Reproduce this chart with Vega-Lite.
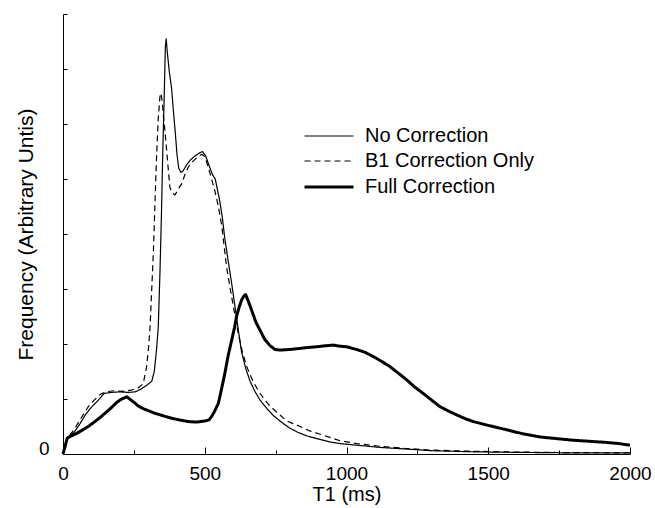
{
  "$schema": "https://vega.github.io/schema/vega-lite/v6.json",
  "autosize": "none",
  "width": 567,
  "height": 440,
  "padding": {"left": 63, "top": 14, "right": 25, "bottom": 54},
  "background": "white",
  "config": {
    "view": {"stroke": null},
    "font": "Liberation Sans",
    "axis": {"domainColor": "black", "tickColor": "black", "labelColor": "black", "titleColor": "black", "grid": false, "titleFontWeight": "normal"}
  },
  "data": {"values": [
    {"s":"No Correction","t":0,"f":0},{"s":"No Correction","t":10,"f":0.22},{"s":"No Correction","t":18,"f":0.30},{"s":"No Correction","t":40,"f":0.40},{"s":"No Correction","t":60,"f":0.55},{"s":"No Correction","t":80,"f":0.72},{"s":"No Correction","t":100,"f":0.85},{"s":"No Correction","t":125,"f":0.98},{"s":"No Correction","t":145,"f":1.10},{"s":"No Correction","t":170,"f":1.12},{"s":"No Correction","t":200,"f":1.13},{"s":"No Correction","t":230,"f":1.12},{"s":"No Correction","t":255,"f":1.13},{"s":"No Correction","t":275,"f":1.18},{"s":"No Correction","t":295,"f":1.25},{"s":"No Correction","t":313,"f":1.32},{"s":"No Correction","t":322,"f":1.50},{"s":"No Correction","t":330,"f":1.9},{"s":"No Correction","t":336,"f":2.3},{"s":"No Correction","t":342,"f":3.3},{"s":"No Correction","t":347,"f":4.3},{"s":"No Correction","t":352,"f":5.5},{"s":"No Correction","t":357,"f":6.5},{"s":"No Correction","t":361,"f":7.4},{"s":"No Correction","t":364,"f":7.55},{"s":"No Correction","t":368,"f":7.3},{"s":"No Correction","t":375,"f":6.95},{"s":"No Correction","t":383,"f":6.65},{"s":"No Correction","t":390,"f":6.2},{"s":"No Correction","t":396,"f":5.85},{"s":"No Correction","t":402,"f":5.45},{"s":"No Correction","t":408,"f":5.2},{"s":"No Correction","t":416,"f":5.12},{"s":"No Correction","t":424,"f":5.15},{"s":"No Correction","t":435,"f":5.25},{"s":"No Correction","t":450,"f":5.35},{"s":"No Correction","t":466,"f":5.42},{"s":"No Correction","t":480,"f":5.47},{"s":"No Correction","t":492,"f":5.5},{"s":"No Correction","t":503,"f":5.42},{"s":"No Correction","t":515,"f":5.25},{"s":"No Correction","t":527,"f":5.08},{"s":"No Correction","t":537,"f":5.0},{"s":"No Correction","t":545,"f":4.8},{"s":"No Correction","t":553,"f":4.6},{"s":"No Correction","t":562,"f":4.3},{"s":"No Correction","t":570,"f":3.95},{"s":"No Correction","t":580,"f":3.6},{"s":"No Correction","t":595,"f":3.1},{"s":"No Correction","t":613,"f":2.45},{"s":"No Correction","t":630,"f":1.85},{"s":"No Correction","t":645,"f":1.55},{"s":"No Correction","t":660,"f":1.32},{"s":"No Correction","t":678,"f":1.13},{"s":"No Correction","t":695,"f":0.98},{"s":"No Correction","t":720,"f":0.82},{"s":"No Correction","t":742,"f":0.70},{"s":"No Correction","t":770,"f":0.58},{"s":"No Correction","t":800,"f":0.47},{"s":"No Correction","t":830,"f":0.39},{"s":"No Correction","t":860,"f":0.33},{"s":"No Correction","t":895,"f":0.28},{"s":"No Correction","t":940,"f":0.22},{"s":"No Correction","t":977,"f":0.19},{"s":"No Correction","t":1036,"f":0.16},{"s":"No Correction","t":1118,"f":0.12},{"s":"No Correction","t":1212,"f":0.09},{"s":"No Correction","t":1300,"f":0.06},{"s":"No Correction","t":1447,"f":0.04},{"s":"No Correction","t":1600,"f":0.03},{"s":"No Correction","t":1800,"f":0.02},{"s":"No Correction","t":2000,"f":0.02},
    {"s":"B1 Correction Only","t":0,"f":0},{"s":"B1 Correction Only","t":10,"f":0.22},{"s":"B1 Correction Only","t":18,"f":0.30},{"s":"B1 Correction Only","t":40,"f":0.45},{"s":"B1 Correction Only","t":60,"f":0.62},{"s":"B1 Correction Only","t":89,"f":0.86},{"s":"B1 Correction Only","t":110,"f":0.98},{"s":"B1 Correction Only","t":130,"f":1.08},{"s":"B1 Correction Only","t":150,"f":1.13},{"s":"B1 Correction Only","t":180,"f":1.15},{"s":"B1 Correction Only","t":210,"f":1.14},{"s":"B1 Correction Only","t":240,"f":1.16},{"s":"B1 Correction Only","t":265,"f":1.2},{"s":"B1 Correction Only","t":283,"f":1.28},{"s":"B1 Correction Only","t":295,"f":1.59},{"s":"B1 Correction Only","t":302,"f":1.95},{"s":"B1 Correction Only","t":307,"f":2.3},{"s":"B1 Correction Only","t":313,"f":3.0},{"s":"B1 Correction Only","t":319,"f":3.7},{"s":"B1 Correction Only","t":324,"f":4.5},{"s":"B1 Correction Only","t":330,"f":5.4},{"s":"B1 Correction Only","t":336,"f":6.1},{"s":"B1 Correction Only","t":342,"f":6.5},{"s":"B1 Correction Only","t":346,"f":6.56},{"s":"B1 Correction Only","t":350,"f":6.4},{"s":"B1 Correction Only","t":355,"f":6.1},{"s":"B1 Correction Only","t":360,"f":5.85},{"s":"B1 Correction Only","t":366,"f":5.5},{"s":"B1 Correction Only","t":371,"f":5.2},{"s":"B1 Correction Only","t":377,"f":4.85},{"s":"B1 Correction Only","t":385,"f":4.75},{"s":"B1 Correction Only","t":395,"f":4.71},{"s":"B1 Correction Only","t":405,"f":4.8},{"s":"B1 Correction Only","t":419,"f":4.92},{"s":"B1 Correction Only","t":430,"f":5.08},{"s":"B1 Correction Only","t":442,"f":5.22},{"s":"B1 Correction Only","t":460,"f":5.33},{"s":"B1 Correction Only","t":477,"f":5.41},{"s":"B1 Correction Only","t":490,"f":5.45},{"s":"B1 Correction Only","t":501,"f":5.4},{"s":"B1 Correction Only","t":512,"f":5.22},{"s":"B1 Correction Only","t":524,"f":5.0},{"s":"B1 Correction Only","t":536,"f":4.78},{"s":"B1 Correction Only","t":548,"f":4.5},{"s":"B1 Correction Only","t":560,"f":4.15},{"s":"B1 Correction Only","t":577,"f":3.4},{"s":"B1 Correction Only","t":590,"f":3.0},{"s":"B1 Correction Only","t":601,"f":2.68},{"s":"B1 Correction Only","t":618,"f":2.19},{"s":"B1 Correction Only","t":633,"f":1.85},{"s":"B1 Correction Only","t":648,"f":1.59},{"s":"B1 Correction Only","t":670,"f":1.32},{"s":"B1 Correction Only","t":695,"f":1.1},{"s":"B1 Correction Only","t":725,"f":0.9},{"s":"B1 Correction Only","t":754,"f":0.76},{"s":"B1 Correction Only","t":790,"f":0.6},{"s":"B1 Correction Only","t":836,"f":0.5},{"s":"B1 Correction Only","t":870,"f":0.42},{"s":"B1 Correction Only","t":907,"f":0.36},{"s":"B1 Correction Only","t":977,"f":0.24},{"s":"B1 Correction Only","t":1036,"f":0.19},{"s":"B1 Correction Only","t":1118,"f":0.14},{"s":"B1 Correction Only","t":1212,"f":0.10},{"s":"B1 Correction Only","t":1300,"f":0.07},{"s":"B1 Correction Only","t":1447,"f":0.05},{"s":"B1 Correction Only","t":1600,"f":0.035},{"s":"B1 Correction Only","t":1800,"f":0.025},{"s":"B1 Correction Only","t":2000,"f":0.02},
    {"s":"Full Correction","t":0,"f":0},{"s":"Full Correction","t":8,"f":0.15},{"s":"Full Correction","t":15,"f":0.29},{"s":"Full Correction","t":30,"f":0.33},{"s":"Full Correction","t":50,"f":0.38},{"s":"Full Correction","t":70,"f":0.44},{"s":"Full Correction","t":89,"f":0.5},{"s":"Full Correction","t":110,"f":0.58},{"s":"Full Correction","t":130,"f":0.66},{"s":"Full Correction","t":148,"f":0.74},{"s":"Full Correction","t":170,"f":0.84},{"s":"Full Correction","t":190,"f":0.94},{"s":"Full Correction","t":207,"f":1.0},{"s":"Full Correction","t":225,"f":1.04},{"s":"Full Correction","t":240,"f":0.98},{"s":"Full Correction","t":255,"f":0.92},{"s":"Full Correction","t":266,"f":0.87},{"s":"Full Correction","t":285,"f":0.82},{"s":"Full Correction","t":305,"f":0.78},{"s":"Full Correction","t":324,"f":0.74},{"s":"Full Correction","t":350,"f":0.70},{"s":"Full Correction","t":383,"f":0.65},{"s":"Full Correction","t":410,"f":0.62},{"s":"Full Correction","t":442,"f":0.59},{"s":"Full Correction","t":470,"f":0.58},{"s":"Full Correction","t":501,"f":0.6},{"s":"Full Correction","t":515,"f":0.62},{"s":"Full Correction","t":524,"f":0.68},{"s":"Full Correction","t":535,"f":0.78},{"s":"Full Correction","t":548,"f":0.92},{"s":"Full Correction","t":560,"f":1.2},{"s":"Full Correction","t":571,"f":1.47},{"s":"Full Correction","t":583,"f":1.8},{"s":"Full Correction","t":595,"f":2.07},{"s":"Full Correction","t":605,"f":2.3},{"s":"Full Correction","t":613,"f":2.52},{"s":"Full Correction","t":622,"f":2.68},{"s":"Full Correction","t":630,"f":2.8},{"s":"Full Correction","t":638,"f":2.87},{"s":"Full Correction","t":644,"f":2.9},{"s":"Full Correction","t":652,"f":2.8},{"s":"Full Correction","t":665,"f":2.62},{"s":"Full Correction","t":680,"f":2.4},{"s":"Full Correction","t":695,"f":2.25},{"s":"Full Correction","t":712,"f":2.08},{"s":"Full Correction","t":730,"f":1.97},{"s":"Full Correction","t":748,"f":1.9},{"s":"Full Correction","t":765,"f":1.89},{"s":"Full Correction","t":800,"f":1.9},{"s":"Full Correction","t":836,"f":1.92},{"s":"Full Correction","t":870,"f":1.94},{"s":"Full Correction","t":895,"f":1.95},{"s":"Full Correction","t":930,"f":1.97},{"s":"Full Correction","t":953,"f":1.98},{"s":"Full Correction","t":977,"f":1.96},{"s":"Full Correction","t":1000,"f":1.95},{"s":"Full Correction","t":1036,"f":1.9},{"s":"Full Correction","t":1065,"f":1.85},{"s":"Full Correction","t":1095,"f":1.77},{"s":"Full Correction","t":1125,"f":1.68},{"s":"Full Correction","t":1153,"f":1.59},{"s":"Full Correction","t":1180,"f":1.48},{"s":"Full Correction","t":1212,"f":1.35},{"s":"Full Correction","t":1240,"f":1.22},{"s":"Full Correction","t":1271,"f":1.1},{"s":"Full Correction","t":1300,"f":0.98},{"s":"Full Correction","t":1330,"f":0.86},{"s":"Full Correction","t":1360,"f":0.78},{"s":"Full Correction","t":1389,"f":0.71},{"s":"Full Correction","t":1420,"f":0.64},{"s":"Full Correction","t":1447,"f":0.59},{"s":"Full Correction","t":1500,"f":0.52},{"s":"Full Correction","t":1565,"f":0.44},{"s":"Full Correction","t":1620,"f":0.37},{"s":"Full Correction","t":1683,"f":0.31},{"s":"Full Correction","t":1740,"f":0.28},{"s":"Full Correction","t":1800,"f":0.25},{"s":"Full Correction","t":1860,"f":0.23},{"s":"Full Correction","t":1918,"f":0.21},{"s":"Full Correction","t":1960,"f":0.19},{"s":"Full Correction","t":2000,"f":0.16}
  ]},
  "mark": {"type": "line", "color": "black", "strokeJoin": "round"},
  "encoding": {
    "x": {"field": "t", "type": "quantitative", "scale": {"domain": [0, 2000], "nice": false},
      "axis": {"title": "T1 (ms)", "format": "d", "values": [0,250,500,750,1000,1250,1500,1750,2000], "labelExpr": "datum.value % 500 == 0 ? datum.label : ''", "tickSize": {"expr": "datum.value % 500 == 0 ? -7 : -4"}, "labelPadding": 17, "labelFontSize": 19, "titleFontSize": 20, "titlePadding": 1, "labelFlush": false, "domainWidth": 1}},
    "y": {"field": "f", "type": "quantitative", "scale": {"domain": [0, 8], "nice": false},
      "axis": {"title": "Frequency (Arbitrary Untis)", "values": [0,1,2,3,4,5,6,7,8], "labelExpr": "datum.value == 0 ? '0' : ''", "tickSize": -4, "labelPadding": 18, "labelOffset": -6, "labelFontSize": 19, "titleFontSize": 21, "titlePadding": 2, "labelFlush": false}},
    "strokeDash": {"field": "s", "type": "nominal", "scale": {"domain": ["No Correction", "B1 Correction Only", "Full Correction"], "range": [[1,0],[6,4],[1,0]]},
      "legend": {"title": null, "orient": "none", "legendX": 252, "legendY": 109, "symbolType": "M-2,0H2", "symbolSize": 600, "symbolStrokeColor": "black", "labelFontSize": 20, "labelOffset": 22, "rowPadding": 2, "labelColor": "black", "labelLimit": 0}},
    "strokeWidth": {"field": "s", "type": "nominal", "scale": {"type": "ordinal", "domain": ["No Correction", "B1 Correction Only", "Full Correction"], "range": [1.2, 1.2, 3]}, "legend": {"title": null, "orient": "none", "legendX": 252, "legendY": 109, "symbolType": "M-2,0H2", "symbolSize": 600, "symbolStrokeColor": "black", "labelFontSize": 20, "labelOffset": 22, "rowPadding": 2, "labelColor": "black", "labelLimit": 0}}
  }
}
